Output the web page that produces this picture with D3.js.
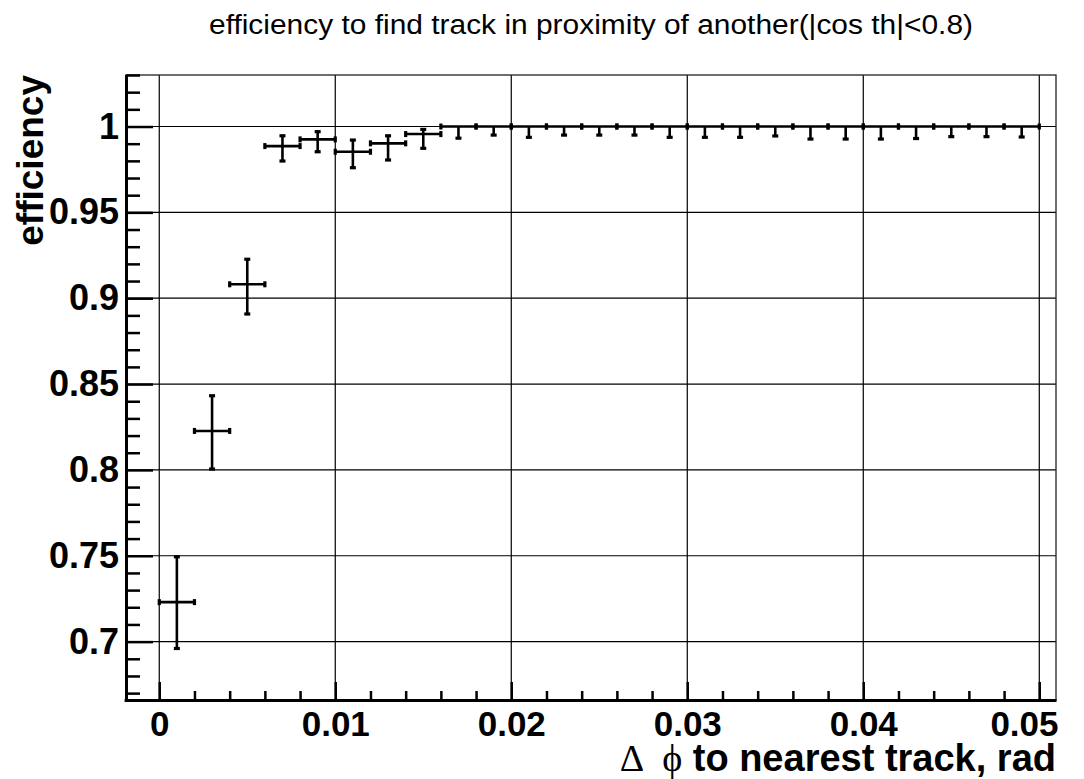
<!DOCTYPE html>
<html><head><meta charset="utf-8">
<script src="https://cdn.jsdelivr.net/npm/d3@7"></script>
<style>body{margin:0;background:#fff} svg{display:block}</style>
</head><body><svg id="c" width="1084" height="779"></svg>
<script>
// ---- data ----
const binCenters = [0.001,0.003,0.005,0.007,0.009,0.011,0.013,0.015,0.017,0.019,0.021,0.023,0.025,0.027,0.029,0.031,0.033,0.035,0.037,0.039,0.041,0.043,0.045,0.047,0.049];
const binHalfWidth = 0.001;
const efficiency = [0.723,0.8227,0.9081,0.9886,0.9925,0.9853,0.9902,0.9956,1,1,1,1,1,1,1,1,1,1,1,1,1,1,1,1,1];
const errUp  = [0.0264,0.0205,0.0146,0.0060,0.0045,0.0068,0.0044,0.0027,0,0,0,0,0,0,0,0,0,0,0,0,0,0,0,0,0];
const errLow = [0.0270,0.0222,0.0173,0.0087,0.0072,0.0093,0.0097,0.0083,0.0068,0.0050,0.0063,0.0050,0.0050,0.0050,0.0063,0.0063,0.0063,0.0055,0.0073,0.0073,0.0073,0.0070,0.0059,0.0059,0.0061];
const xTicks = [0,0.01,0.02,0.03,0.04,0.05];
const xTickLabels = ["0","0.01","0.02","0.03","0.04","0.05"];
const yTicks = [0.7,0.75,0.8,0.85,0.9,0.95,1];
const yTickLabels = ["0.7","0.75","0.8","0.85","0.9","0.95","1"];
const titleText = "efficiency to find track in proximity of another(|cos th|<0.8)";
const yTitle = "efficiency";

// ---- layout ----
const L = 126, R = 1056, T = 75, B = 700;
const svg = d3.select("#c");
const x = d3.scaleLinear().domain([-0.00189, 0.05095]).range([L, R]);
const y = d3.scaleLinear().domain([0.6660, 1.0300]).range([B, T]);
const FONT = "'Liberation Sans', Arial, Helvetica, sans-serif";

// grid
const g = svg.append("g").attr("stroke", "#000").attr("stroke-width", 1.2);
xTicks.forEach(v => g.append("line").attr("x1", x(v)).attr("x2", x(v)).attr("y1", T).attr("y2", B));
yTicks.forEach(v => g.append("line").attr("x1", L).attr("x2", R).attr("y1", y(v)).attr("y2", y(v)));

// frame (top / right thin)
svg.append("rect").attr("x", L).attr("y", T).attr("width", R - L).attr("height", B - T)
  .attr("fill", "none").attr("stroke", "#222").attr("stroke-width", 1.3);

// minor ticks
const yMinor = d3.range(0.67, 1.0301, 0.01).map(v => +v.toFixed(2)).filter(v => yTicks.indexOf(v) < 0);
const xMinor = d3.range(0, 0.0501, 0.002).map(v => +v.toFixed(3)).filter(v => xTicks.indexOf(v) < 0);

const yAxisMinor = svg.append("g").attr("transform", `translate(${L},0)`)
  .call(d3.axisLeft(y).tickValues(yMinor).tickSizeInner(-14).tickSizeOuter(0).tickFormat(""));
const xAxisMinor = svg.append("g").attr("transform", `translate(0,${B})`)
  .call(d3.axisBottom(x).tickValues(xMinor).tickSizeInner(-9).tickSizeOuter(0).tickFormat(""));

const yAxis = svg.append("g").attr("transform", `translate(${L},0)`)
  .call(d3.axisLeft(y).tickValues(yTicks).tickSizeInner(-27).tickSizeOuter(0).tickPadding(7)
    .tickFormat((d, i) => yTickLabels[i]));
const xAxis = svg.append("g").attr("transform", `translate(0,${B})`)
  .call(d3.axisBottom(x).tickValues(xTicks).tickSizeInner(-18).tickSizeOuter(0).tickPadding(11)
    .tickFormat((d, i) => xTickLabels[i]));

[yAxisMinor, xAxisMinor, yAxis, xAxis].forEach(a => {
  a.selectAll("path.domain").attr("stroke", "#000").attr("stroke-width", 2.8);
  a.selectAll(".tick line").attr("stroke", "#000").attr("stroke-width", 2.5);
  a.selectAll("text").attr("fill", "#000").attr("font-family", FONT).attr("font-weight", "bold").attr("font-size", 36);
});
xAxis.selectAll("text").attr("font-size", 35);
// last x label kept inside the pad, as the reference does
xAxis.selectAll(".tick").filter(v => v === 0.05).select("text")
  .attr("text-anchor", "end").attr("x", R - x(0.05) + 2);
// extend domain lines to frame corners
yAxis.select("path.domain").attr("d", `M0.5,${T}V${B + 1.4}`);
xAxis.select("path.domain").attr("d", `M${L - 1.4},0.5H${R}`);

// data: error bars
const d = binCenters.map((c, i) => ({c, e: efficiency[i], up: errUp[i], lo: errLow[i]}));
const m = svg.append("g");
d.forEach(p => {
  const x0 = x(p.c - binHalfWidth), x1 = x(p.c + binHalfWidth), xc = x(p.c), yc = y(p.e);
  m.append("line").attr("x1", x0).attr("x2", x1).attr("y1", yc).attr("y2", yc).attr("stroke", "#000").attr("stroke-width", 2.6);
  m.append("rect").attr("x", x0 - 1.6).attr("y", yc - 3).attr("width", 3.2).attr("height", 6).attr("fill", "#000");
  m.append("rect").attr("x", x1 - 1.6).attr("y", yc - 3).attr("width", 3.2).attr("height", 6).attr("fill", "#000");
  const yt = y(p.e + p.up), yb = y(p.e - p.lo);
  m.append("line").attr("x1", xc).attr("x2", xc).attr("y1", yt).attr("y2", yb).attr("stroke", "#000").attr("stroke-width", 2.6);
  if (p.up > 0) m.append("rect").attr("x", xc - 3).attr("y", yt - 1.6).attr("width", 6).attr("height", 3.2).attr("fill", "#000");
  if (p.lo > 0) m.append("rect").attr("x", xc - 3).attr("y", yb - 1.6).attr("width", 6).attr("height", 3.2).attr("fill", "#000");
});

// title
svg.append("text").attr("x", 209).attr("y", 34).attr("font-family", FONT).attr("font-size", 27)
  .attr("textLength", 764).attr("lengthAdjust", "spacingAndGlyphs").attr("fill", "#000").text(titleText);

// y title
svg.append("text").attr("transform", "translate(43,75) rotate(-90)").attr("text-anchor", "end")
  .attr("font-family", FONT).attr("font-weight", "bold").attr("font-size", 37).attr("fill", "#000").text(yTitle);

// x title
const xt = svg.append("text").attr("x", 1056).attr("y", 771).attr("text-anchor", "end")
  .attr("font-family", FONT).attr("font-weight", "bold").attr("font-size", 38).attr("fill", "#000");
xt.append("tspan").attr("font-family", "'Liberation Serif','DejaVu Serif',serif").attr("font-weight", "normal").text("\u0394");
xt.append("tspan").attr("dx", 18).attr("font-family", "'Liberation Serif','DejaVu Serif',serif").attr("font-weight", "normal").text("\u03D5");
xt.append("tspan").text(" to nearest track, rad");
</script>
</body></html>
